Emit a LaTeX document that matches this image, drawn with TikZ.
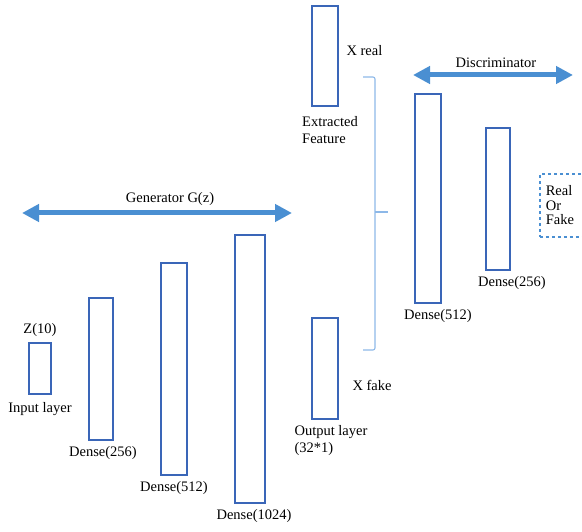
\documentclass[tikz,border=0pt]{standalone}
\usepackage{fontspec}
\setmainfont{Liberation Serif}
\usetikzlibrary{positioning,arrows.meta}
\definecolor{layerblue}{HTML}{3A66B8}
\definecolor{spanblue}{HTML}{4A8FD2}
\definecolor{bracketblue}{HTML}{8DB8E8}

\begin{document}
\begin{tikzpicture}[x=1pt,y=-1pt,node distance=4pt,
  font=\fontsize{14.5}{17}\selectfont,
  layer/.style 2 args={draw=layerblue,line width=2.6pt,inner sep=0pt,minimum width=#1,minimum height=#2},
  lbl/.style={inner sep=1pt},
  span/.style={spanblue,line width=5pt,{Triangle[width=17pt,length=17pt]}-{Triangle[width=17pt,length=17pt]}}]
\useasboundingbox (0,0) rectangle (582,532);
% generator
\node[layer={22pt}{51pt}] (in) at (40,368.5) {};
\node[layer={24pt}{142pt}] (g1) at (101,369) {};
\node[layer={26pt}{212pt}] (g2) at (174,369) {};
\node[layer={30pt}{268pt}] (g3) at (250,369) {};
\node[layer={26pt}{101pt}] (out) at (325,368.5) {};
\node[lbl] (inT) [above=of in] {Z(10)};
\node[lbl] (inB) [below=6pt of in] {Input layer};
\node[lbl] (g1B) [below=of g1,xshift=2pt] {Dense(256)};
\node[lbl] (g2B) [below=of g2] {Dense(512)};
\node[lbl] (g3B) [below=of g3,xshift=4pt] {Dense(1024)};
\node[lbl,align=left] (outB) [below=of out,xshift=6pt] {Output layer\\(32*1)};
\node[lbl] (xf) [right=12pt of out,yshift=-17pt] {X fake};
% real data
\node[layer={26pt}{100pt}] (xr) at (325,56) {};
\node[lbl] (xrT) [right=6pt of xr,yshift=5pt] {X real};
\node[lbl,align=left] (ef) [below=8pt of xr,xshift=5pt] {Extracted\\Feature};
% discriminator
\node[layer={26pt}{209pt}] (d1) at (428,198.5) {};
\node[layer={24pt}{142pt}] (d2) at (498,199) {};
\node[lbl] (d1B) [below=of d1,xshift=10pt] {Dense(512)};
\node[lbl] (d2B) [below=of d2,xshift=14pt] {Dense(256)};
\node[draw=spanblue,dashed,line width=1.6pt,align=left,text width=40pt,inner xsep=6pt,
  minimum height=63pt,anchor=west,font=\fontsize{14.5}{14.5}\selectfont] (rf) at (539,205.5) {Real\\Or\\Fake};
% spans
\coordinate (genL) at (22,213);
\coordinate (genR) at (292,213);
\draw[span] (genL) -- (genR);
\node[lbl] (gen) at (170,199) {Generator G(z)};
\coordinate (disL) at (413,75);
\coordinate (disR) at (573,75);
\draw[span] (disL) -- (disR);
\node[lbl] (dis) at (496,63) {Discriminator};
% bracket
\coordinate (brT) at (363,77);
\coordinate (brB) at (363,350);
\coordinate (brM) at (375,212);
\draw[bracketblue,line width=1.1pt,rounded corners=2pt] (brT) -| (brM) |- (brB);
\draw[bracketblue,line width=1.1pt] (brM) -- ++(13,0);
\end{tikzpicture}
\end{document}
